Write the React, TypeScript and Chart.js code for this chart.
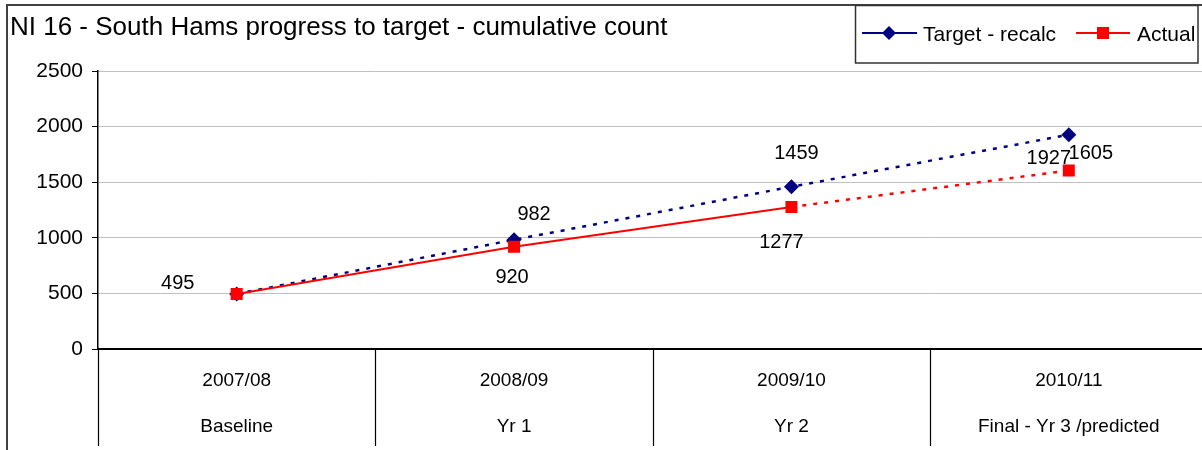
import React, { useEffect, useRef } from "react";
import { Chart, registerables } from "chart.js";

Chart.register(...registerables);

const titleText = "NI 16 - South Hams progress to target - cumulative count";
const years = ["2007/08", "2008/09", "2009/10", "2010/11"];
const stages = ["Baseline", "Yr 1", "Yr 2", "Final - Yr 3 /predicted"];
const targetName = "Target - recalc";
const actualName = "Actual";
const targetValues = [495, 982, 1459, 1927];
const actualValues = [495, 920, 1277, 1605];
const yTicks = [0, 500, 1000, 1500, 2000, 2500];

// label offsets from each point (styling only); null = label hidden behind the other series' label
const targetLabelOffsets: (number[] | null)[] = [[-59, -10], [20, -25], [5, -33], [-20, 24]];
const actualLabelOffsets: (number[] | null)[] = [null, [-2, 31], [-10, 35], [22, -17]];

const FONT = '"Liberation Sans", Arial, sans-serif';
const NAVY = "#000080";
const RED = "#FF0000";
const CANVAS_W = 1216;

const decorPlugin = {
  id: "decor",
  beforeDraw(chart: any) {
    const ctx = chart.ctx;
    ctx.save();
    ctx.fillStyle = "#fff";
    ctx.fillRect(0, 0, chart.width, chart.height);
    ctx.restore();
  },
  afterDatasetsDraw(chart: any) {
    const ctx = chart.ctx;
    ctx.save();
    ctx.font = `20px ${FONT}`;
    ctx.fillStyle = "#000";
    ctx.textAlign = "center";
    ctx.textBaseline = "middle";
    const offs = [targetLabelOffsets, actualLabelOffsets];
    chart.data.datasets.forEach((ds: any, di: number) => {
      const meta = chart.getDatasetMeta(di);
      meta.data.forEach((pt: any, i: number) => {
        const o = offs[di][i];
        if (!o) return;
        ctx.fillText(String(ds.data[i]), pt.x + o[0], pt.y + o[1]);
      });
    });
    ctx.restore();
  },
  afterDraw(chart: any) {
    const ctx = chart.ctx;
    const area = chart.chartArea;
    const xs = chart.scales.x;
    ctx.save();
    // category separators below the axis
    ctx.strokeStyle = "#000";
    ctx.lineWidth = 1.2;
    const n = years.length;
    const bounds: number[] = [area.left];
    for (let i = 1; i < n; i++) {
      bounds.push((xs.getPixelForValue(i - 1) + xs.getPixelForValue(i)) / 2);
    }
    bounds.push(area.right);
    bounds.forEach((bx) => {
      ctx.beginPath();
      ctx.moveTo(Math.round(bx) + 0.5, area.bottom);
      ctx.lineTo(Math.round(bx) + 0.5, 446);
      ctx.stroke();
    });
    // outer border
    ctx.strokeStyle = "#404040";
    ctx.lineWidth = 2;
    ctx.beginPath();
    ctx.moveTo(7, 460);
    ctx.lineTo(7, 5);
    ctx.lineTo(chart.width + 5, 5);
    ctx.stroke();
    // title
    ctx.fillStyle = "#000";
    ctx.font = `26px ${FONT}`;
    ctx.textAlign = "left";
    ctx.textBaseline = "alphabetic";
    ctx.fillText(titleText, 10, 35);
    // legend box
    ctx.fillStyle = "#fff";
    ctx.fillRect(855, 5, 343, 58);
    ctx.strokeStyle = "#333";
    ctx.lineWidth = 1.5;
    ctx.strokeRect(855.5, 5.5, 342.5, 57.5);
    const ly = 33;
    // target entry
    ctx.strokeStyle = NAVY;
    ctx.lineWidth = 2;
    ctx.beginPath();
    ctx.moveTo(862, ly);
    ctx.lineTo(917, ly);
    ctx.stroke();
    ctx.fillStyle = NAVY;
    ctx.beginPath();
    ctx.moveTo(889, ly - 7);
    ctx.lineTo(896, ly);
    ctx.lineTo(889, ly + 7);
    ctx.lineTo(882, ly);
    ctx.closePath();
    ctx.fill();
    ctx.fillStyle = "#000";
    ctx.font = `21px ${FONT}`;
    ctx.fillText(targetName, 923, 40.5);
    // actual entry
    ctx.strokeStyle = RED;
    ctx.beginPath();
    ctx.moveTo(1076, ly);
    ctx.lineTo(1130, ly);
    ctx.stroke();
    ctx.fillStyle = RED;
    ctx.fillRect(1097, ly - 6, 12, 12);
    ctx.fillStyle = "#000";
    ctx.fillText(actualName, 1137, 40.5);
    ctx.restore();
  },
};

export default function App() {
  const ref = useRef<HTMLCanvasElement | null>(null);
  useEffect(() => {
    if (!ref.current) return;
    const chart = new Chart(ref.current, {
      type: "line",
      data: {
        labels: years.map((y, i) => [y, stages[i]]),
        datasets: [
          {
            label: targetName,
            data: targetValues,
            borderColor: NAVY,
            backgroundColor: NAVY,
            borderWidth: 2.5,
            borderDash: [4, 7],
            pointStyle: "rectRot",
            pointRadius: 7.5,
            pointBorderWidth: 0,
            tension: 0,
            order: 1,
          },
          {
            label: actualName,
            data: actualValues,
            borderColor: RED,
            backgroundColor: RED,
            borderWidth: 2,
            pointStyle: "rect",
            pointRadius: 8.5,
            pointBorderWidth: 0,
            tension: 0,
            order: 0,
            segment: {
              borderDash: (c: any) => (c.p1DataIndex >= 3 ? [4, 7] : undefined),
              borderWidth: (c: any) => (c.p1DataIndex >= 3 ? 2.5 : undefined),
            },
          },
        ],
      },
      options: {
        responsive: false,
        maintainAspectRatio: false,
        devicePixelRatio: 1,
        animation: false,
        layout: { padding: { left: 8, top: 71, right: 0, bottom: 0 } },
        plugins: { legend: { display: false }, tooltip: { enabled: false } },
        scales: {
          x: {
            type: "category",
            offset: true,
            grid: { display: false, drawTicks: false },
            border: { display: true, color: "#000", width: 2 },
            ticks: {
              color: "#000",
              font: { family: FONT, size: 19, lineHeight: "46px" },
              padding: 9,
              maxRotation: 0,
              minRotation: 0,
              autoSkip: false,
            },
            afterFit: (s: any) => {
              s.height = 101;
            },
          },
          y: {
            min: 0,
            max: 2500,
            afterBuildTicks: (s: any) => {
              s.ticks = yTicks.map((v) => ({ value: v }));
            },
            grid: {
              color: "#c0c0c0",
              lineWidth: 1,
              tickColor: "#000",
              tickLength: 6,
              drawTicks: true,
            },
            border: { display: true, color: "#000", width: 1.5 },
            ticks: {
              color: "#000",
              font: { family: FONT, size: 21 },
              padding: 9,
              callback: (v: any) => String(v),
            },
            afterFit: (s: any) => {
              s.width = 90;
            },
          },
        },
      },
      plugins: [decorPlugin],
    });
    return () => chart.destroy();
  }, []);
  return (
    <div
      style={{
        position: "fixed",
        left: 0,
        top: 0,
        width: 1202,
        height: 450,
        overflow: "hidden",
        background: "#fff",
      }}
    >
      <canvas
        ref={ref}
        width={CANVAS_W}
        height={450}
        style={{ width: CANVAS_W, height: 450, display: "block" }}
      />
    </div>
  );
}
